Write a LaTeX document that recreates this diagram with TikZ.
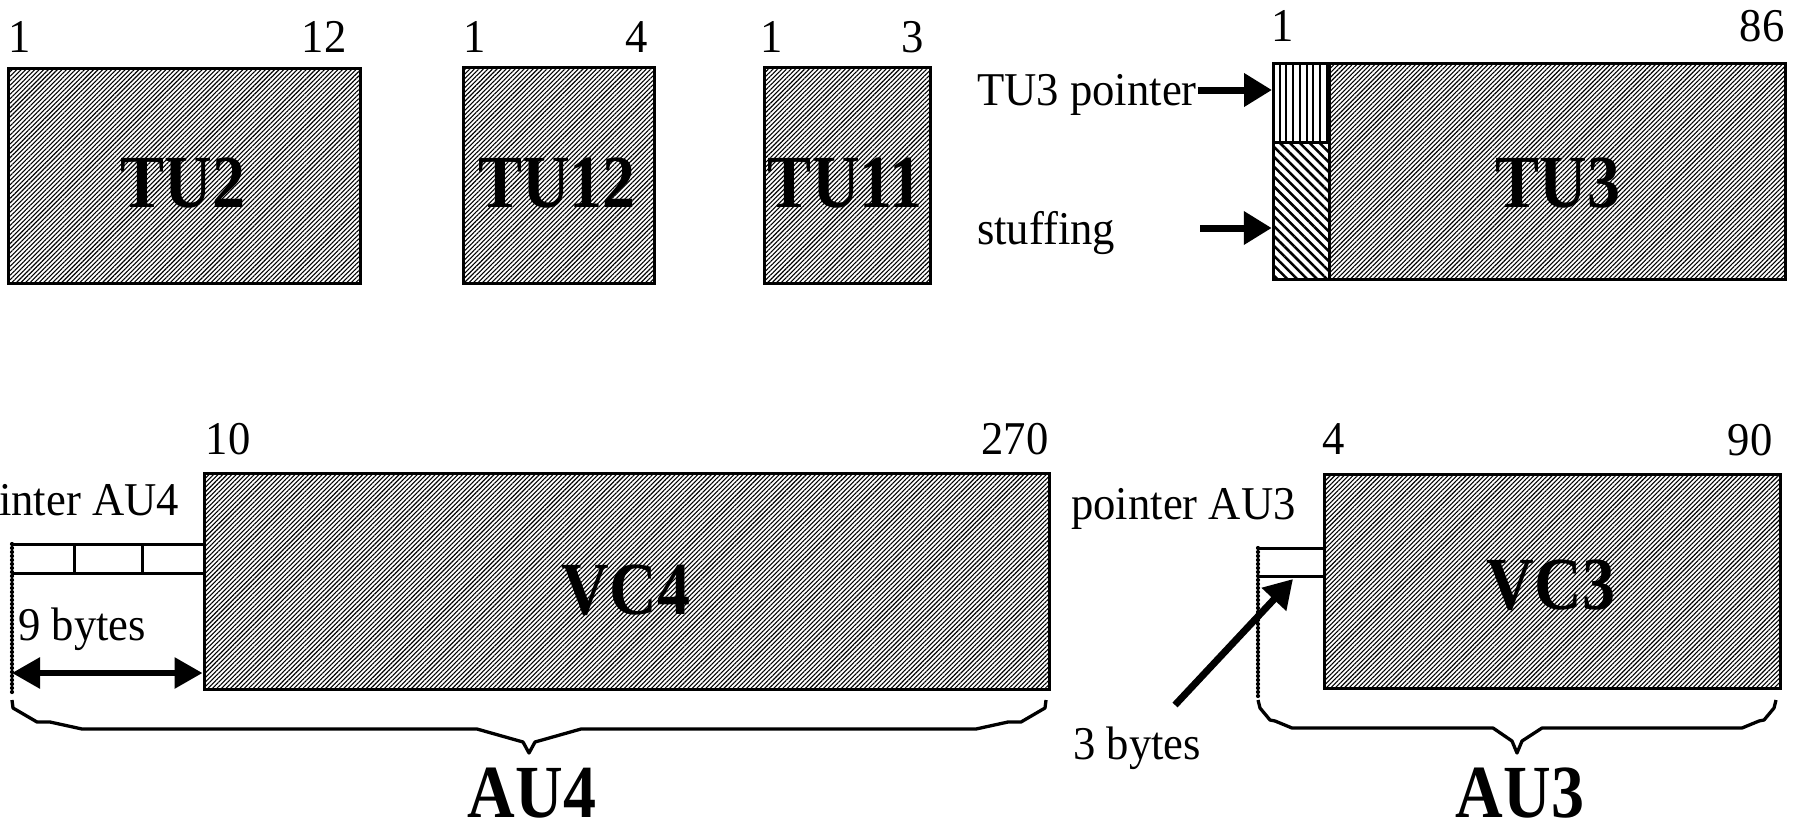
\documentclass[tikz,border=0pt]{standalone}
\usepackage{fontspec}
\setmainfont{Liberation Serif}[FakeStretch=0.95]
\newfontfamily\labfont{Liberation Serif}[FakeStretch=0.88]
\usetikzlibrary{patterns.meta,arrows.meta}
\begin{document}
\begin{tikzpicture}[x=1pt,y=-1pt,
  hatchbox/.style={draw=black, line width=3pt, inner sep=0pt, rectangle,
    pattern={Lines[angle=45,distance=3.2pt,line width=1.1pt]}},
  ptrbox/.style={draw=black, line width=3pt, inner sep=0pt, rectangle,
    pattern={Lines[angle=90,distance=6.7pt,line width=2pt]}},
  stuffbox/.style={draw=black, line width=3pt, inner sep=0pt, rectangle,
    pattern={Lines[angle=-45,distance=7pt,line width=2.5pt]}},
  txt/.style={inner sep=0pt, font=\fontsize{47}{50}\selectfont},
  num/.style={txt, anchor=base},
  biglab/.style={inner sep=0pt, font=\labfont\bfseries\fontsize{75}{80}\selectfont},
  bigarrow/.style={line width=7pt, -{Triangle[length=28pt,width=32pt]}},
  dblarrow/.style={line width=6pt, {Triangle[length=28pt,width=30pt]}-{Triangle[length=28pt,width=30pt]}},
  rowline/.style={line width=3pt},
  dotline/.style={line width=4.2pt, line cap=round, dash pattern=on 0pt off 4pt},
  bracestyle/.style={line width=3.3pt, line join=round}
]
\useasboundingbox (0,0) rectangle (1796,833);

% ---------- top row ----------
\node[hatchbox, minimum width=352pt, minimum height=215pt] (tu2) at (184,175.5) {};
\node[biglab] (tu2l) at (183,183) {TU2};
\node[num] (tu2a) at (19.5,52) {1};
\node[num] (tu2b) at (324,52) {12};

\node[hatchbox, minimum width=191pt, minimum height=216pt] (tu12) at (558.5,175.5) {};
\node[biglab] (tu12l) at (557,183) {TU12};
\node[num] (tu12a) at (475,52) {1};
\node[num] (tu12b) at (637,52) {4};

\node[hatchbox, minimum width=166pt, minimum height=216pt] (tu11) at (847,175.5) {};
\node[biglab] (tu11l) at (845,183) {TU11};
\node[num] (tu11a) at (772,52) {1};
\node[num] (tu11b) at (913,52) {3};

\node[ptrbox, minimum width=56pt, minimum height=79pt] (ptr) at (1301,102.5) {};
\node[stuffbox, minimum width=56pt, minimum height=137pt] (stuff) at (1301,210.5) {};
\node[hatchbox, minimum width=456pt, minimum height=216pt] (tu3) at (1557,171) {};
\node[biglab] (tu3l) at (1558,183) {TU3};
\node[num] (tu3a) at (1283,41) {1};
\node[num] (tu3b) at (1762,41) {86};

\node[txt, anchor=base west] (ptrtxt) at (977,105) {TU3 pointer};
\node[txt, anchor=base west] (stufftxt) at (977,244) {stuffing};
\coordinate (a1s) at (1198,90);
\coordinate (a2s) at (1200,228);
\draw[bigarrow] (a1s) -- (a1s -| ptr.west);
\draw[bigarrow] (a2s) -- (a2s -| stuff.west);

% ---------- AU4 ----------
\node[hatchbox, minimum width=845pt, minimum height=216pt] (vc4) at (626.5,581) {};
\node[biglab] (vc4l) at (626,590) {VC4};
\node[num] (vc4a) at (228,454) {10};
\node[num] (vc4b) at (1015,454) {270};
\node[txt, anchor=base west] (p4txt) at (-1,515) {inter AU4};

\coordinate (p4tl) at (12,544);
\coordinate (p4bl) at (12,573);
\coordinate (p4d) at (12,693);
\draw[rowline] (p4tl) -- (p4tl -| vc4.west);
\draw[rowline] (p4bl) -- (p4bl -| vc4.west);
\draw[rowline] (74,544) -- (74,573);
\draw[rowline] (142,544) -- (142,573);
\draw[dotline] (p4tl) -- (p4d);

\node[txt, anchor=base west] (b9) at (18,640) {9 bytes};
\coordinate (d4l) at (12,673);
\draw[dblarrow] (d4l) -- (d4l -| vc4.west);

\draw[bracestyle] (12,700) -- (13,708) -- (37,722) -- (50,722) -- (82,729) -- (477,729)
  -- (523,742) -- (529,753) -- (535,742) -- (581,729) -- (976,729) -- (1008,722)
  -- (1021,722) -- (1045,708) -- (1046,700);
\node[biglab, anchor=base] (au4) at (532,817) {AU4};

% ---------- AU3 ----------
\node[hatchbox, minimum width=456pt, minimum height=214pt] (vc3) at (1552,581) {};
\node[biglab] (vc3l) at (1551,585) {VC3};
\node[num] (vc3a) at (1334,454) {4};
\node[num] (vc3b) at (1750,455) {90};
\node[txt, anchor=base west] (p3txt) at (1071,519) {pointer AU3};

\coordinate (p3tl) at (1258,548);
\coordinate (p3bl) at (1258,576);
\coordinate (p3d) at (1258,697);
\draw[rowline] (p3tl) -- (p3tl -| vc3.west);
\draw[rowline] (p3bl) -- (p3bl -| vc3.west);
\draw[dotline] (p3tl) -- (p3d);

\node[txt, anchor=base west] (b3) at (1073,759) {3 bytes};
\coordinate (a3s) at (1175,705);
\coordinate (a3e) at (1293,579);
\draw[bigarrow] (a3s) -- (a3e);

\draw[bracestyle] (1258,700) -- (1260,708) -- (1270,720) -- (1275,721) -- (1292,728) -- (1493,728)
  -- (1512,741) -- (1517,753) -- (1522,741) -- (1542,728) -- (1742,728) -- (1759,721)
  -- (1764,720) -- (1774,708) -- (1776,700);
\node[biglab, anchor=base] (au3) at (1520,817) {AU3};
\end{tikzpicture}
\end{document}
